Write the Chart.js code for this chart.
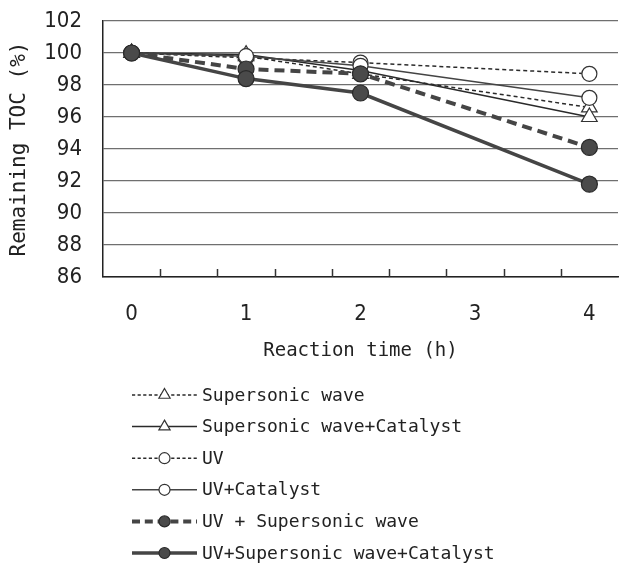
<!DOCTYPE html>
<html>
<head>
<meta charset="utf-8">
<script src="https://cdn.jsdelivr.net/npm/chart.js@4/dist/chart.umd.min.js"></script>
<style>
  html, body { margin: 0; padding: 0; background: #fff; }
  canvas { display: block; }
</style>
</head>
<body>
<canvas id="toc-chart" width="619" height="567"></canvas>
<script>
const times = [0, 1, 2, 4];
const xLabels = ["0", "1", "2", "3", "4"];
const yTicks = [86, 88, 90, 92, 94, 96, 98, 100, 102];
const minorTicks = [0.25, 0.75, 1.25, 1.75, 2.25, 2.75, 3.25, 3.75];

const seriesNames = [
  "Supersonic wave",
  "Supersonic wave+Catalyst",
  "UV",
  "UV+Catalyst",
  "UV + Supersonic wave",
  "UV+Supersonic wave+Catalyst"
];
const supersonic = [100, 99.8, 98.7, 96.6];
const supersonicCat = [100, 99.9, 98.9, 96.0];
const uv = [100, 99.7, 99.4, 98.7];
const uvCat = [100, 99.8, 99.2, 97.2];
const uvSupersonic = [100, 99.0, 98.7, 94.1];
const uvSupersonicCat = [100, 98.4, 97.5, 91.8];

const MONO = "'DejaVu Sans Mono', 'Liberation Mono', monospace";
const NARROW = "'DejaVu Sans Condensed', 'DejaVu Sans', sans-serif";

function points(values) {
  return values.map((v, i) => ({ x: times[i], y: v }));
}

function series(label, values, style) {
  return Object.assign({
    label,
    data: points(values),
    borderColor: "#2a2a2a",
    borderWidth: 1.5,
    pointBorderWidth: 1.2,
    pointBorderColor: "#333",
    pointBackgroundColor: "#fff",
    fill: false,
    tension: 0
  }, style);
}

const datasets = [
  series(seriesNames[0], supersonic, { borderDash: [4, 3], pointStyle: "triangle", pointRadius: 9, order: 6 }),
  series(seriesNames[1], supersonicCat, { pointStyle: "triangle", pointRadius: 9, order: 5 }),
  series(seriesNames[2], uv, { borderDash: [4, 3], pointStyle: "circle", pointRadius: 7.5, order: 4 }),
  series(seriesNames[3], uvCat, { borderColor: "#444", pointStyle: "circle", pointRadius: 7.5, order: 3 }),
  series(seriesNames[4], uvSupersonic, {
    borderColor: "#454545", borderWidth: 4, borderDash: [10, 6],
    pointStyle: "circle", pointRadius: 8, pointBackgroundColor: "#4a4a4a", pointBorderColor: "#2a2a2a", order: 2
  }),
  series(seriesNames[5], uvSupersonicCat, {
    borderColor: "#454545", borderWidth: 3.5,
    pointStyle: "circle", pointRadius: 8, pointBackgroundColor: "#4a4a4a", pointBorderColor: "#2a2a2a", order: 1
  })
];

function noPadding(scale) {
  scale.paddingLeft = 0;
  scale.paddingRight = 0;
  scale.paddingTop = 0;
  scale.paddingBottom = 0;
}

// small inward tick marks on the bottom axis, between the labels
const innerTicks = {
  id: "innerTicks",
  afterDraw(chart) {
    const { ctx, scales: { x }, chartArea } = chart;
    ctx.save();
    ctx.strokeStyle = "#333";
    ctx.lineWidth = 1.5;
    minorTicks.forEach((v) => {
      const px = Math.round(x.getPixelForValue(v)) + 0.5;
      ctx.beginPath();
      ctx.moveTo(px, chartArea.bottom);
      ctx.lineTo(px, chartArea.bottom - 8);
      ctx.stroke();
    });
    ctx.restore();
  }
};

// vertical legend under the chart
const listLegend = {
  id: "listLegend",
  afterDraw(chart) {
    const { ctx } = chart;
    const x0 = 132, x1 = 197, textX = 202;
    const top = 395, step = 31.6;
    ctx.save();
    chart.data.datasets.forEach((ds, i) => {
      const y = top + i * step;
      ctx.strokeStyle = ds.borderColor;
      ctx.lineWidth = ds.borderWidth;
      ctx.setLineDash(ds.borderDash ? ds.borderDash.map((d) => d * 0.8) : []);
      ctx.beginPath();
      ctx.moveTo(x0, y);
      ctx.lineTo(x1, y);
      ctx.stroke();
      ctx.setLineDash([]);
      ctx.fillStyle = ds.pointBackgroundColor;
      ctx.strokeStyle = ds.pointBorderColor;
      ctx.lineWidth = 1.2;
      Chart.helpers.drawPoint(ctx, {
        pointStyle: ds.pointStyle,
        radius: ds.pointStyle === "triangle" ? 6.5 : 5.5,
        rotation: 0,
        borderWidth: 1.2
      }, (x0 + x1) / 2, y);
      ctx.fillStyle = "#222";
      ctx.font = "18px " + MONO;
      ctx.textBaseline = "middle";
      ctx.textAlign = "left";
      ctx.fillText(ds.label, textX, y + 1);
    });
    ctx.restore();
  }
};

new Chart(document.getElementById("toc-chart"), {
  type: "line",
  data: { datasets },
  plugins: [innerTicks, listLegend],
  options: {
    responsive: false,
    animation: false,
    layout: { autoPadding: false, padding: { top: 21, right: 1, left: 0, bottom: 205 } },
    plugins: {
      legend: { display: false },
      tooltip: { enabled: false }
    },
    scales: {
      x: {
        type: "linear",
        min: -0.25,
        max: 4.25,
        afterBuildTicks: (scale) => {
          scale.ticks = xLabels.map((_, i) => ({ value: i }));
        },
        afterFit: (scale) => { scale.height = 85; noPadding(scale); },
        ticks: {
          callback: (v) => xLabels[v],
          color: "#222",
          padding: 24,
          maxRotation: 0,
          font: { family: NARROW, size: 22 }
        },
        grid: { display: false, drawTicks: false },
        border: { display: true, color: "#222", width: 1.5 },
        title: {
          display: true,
          text: "Reaction time (h)",
          color: "#222",
          padding: { top: 0, bottom: 0 },
          font: { family: MONO, size: 19 }
        }
      },
      y: {
        min: 86,
        max: 102,
        afterBuildTicks: (scale) => {
          scale.ticks = yTicks.map((v) => ({ value: v }));
        },
        afterFit: (scale) => { scale.width = 103; noPadding(scale); },
        ticks: {
          color: "#222",
          padding: 21,
          font: { family: NARROW, size: 22 }
        },
        grid: { color: "#6f6f6f", lineWidth: 1.3, drawTicks: false },
        border: { display: true, color: "#222", width: 1.5 },
        title: {
          display: true,
          text: "Remaining TOC (%)",
          color: "#222",
          padding: { top: 7, bottom: 0 },
          font: { family: MONO, size: 21 }
        }
      }
    }
  }
});
</script>
</body>
</html>
